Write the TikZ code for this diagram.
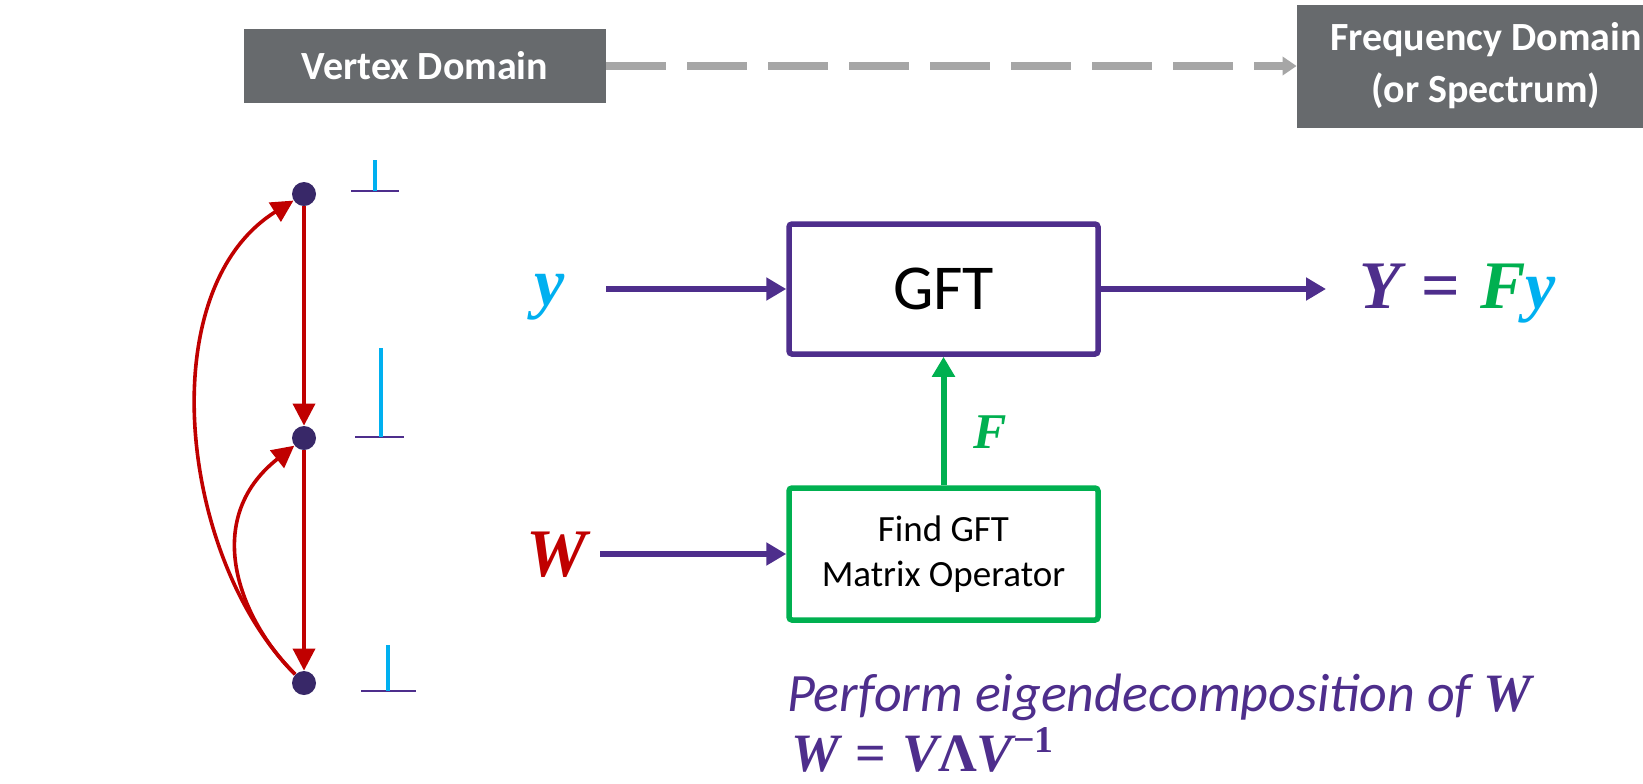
\documentclass[tikz,border=0pt]{standalone}
\usepackage{fontspec}
\setmainfont{Carlito}
\newfontfamily\mathlike{Liberation Serif}
\newcommand{\mv}[1]{{\mathlike\bfseries\itshape #1}}
\newcommand{\meq}{\hspace{0.3em}{\mathlike\bfseries=}\hspace{0.3em}}
\usetikzlibrary{arrows.meta}
\definecolor{gftpurple}{RGB}{78,46,140}
\definecolor{dotpurple}{RGB}{56,40,104}
\definecolor{edgered}{RGB}{192,0,0}
\definecolor{gftgreen}{RGB}{0,176,80}
\definecolor{sigblue}{RGB}{0,176,240}
\definecolor{boxgray}{RGB}{103,106,109}
\definecolor{dashgray}{RGB}{166,166,166}
\begin{document}
\begin{tikzpicture}[x=0.5pt,y=-0.5pt,
	domainbox/.style={rectangle,fill=boxgray,text=white,font=\fontsize{20}{26}\selectfont\bfseries,align=center,inner sep=0pt},
	vertex/.style={circle,fill=dotpurple,minimum size=12pt,inner sep=0pt},
	edge/.style={draw=edgered,line width=1.8pt,-{Triangle[length=11pt,width=11pt]}},
	flow/.style={draw=#1,line width=3pt,-{Triangle[length=10pt,width=11pt]}},
	block/.style={rectangle,draw=#1,line width=2.75pt,rounded corners=1.5pt,minimum width=154.5pt,inner sep=0pt},
	mathlab/.style={anchor=base,font=\fontsize{34}{40}\selectfont}]
	\path[use as bounding box,fill=white] (0,0) rectangle (1643,783);
	\clip (0,0) rectangle (1643,783);
	
	\node[domainbox,minimum width=181pt,minimum height=37pt] (vdom) at (425,66) {Vertex Domain};
	\node[domainbox,minimum width=189pt,minimum height=61.5pt] (fdom) at (1486,66) {Frequency Domain\\(or Spectrum)};
	\draw[dashgray,line width=3.75pt,dash pattern=on 30pt off 10.5pt,-{Triangle[length=7pt,width=9pt]}] (vdom) -- (fdom);
	
	\node[vertex] (v1) at (304,194) {};
	\node[vertex] (v2) at (304,438) {};
	\node[vertex] (v3) at (304,683) {};
	\foreach \from/\to in {v1/v2,v2/v3}
	\draw[edge] (\from) -- (\to);
	\draw[edge] (v3) .. controls (180,560) and (150,290) .. (v1);
	\draw[edge] (v3) .. controls (240,620) and (200,520) .. (v2);
	
	\foreach \bx/\by/\sx/\st/\bw in {351/191/375/160/48,355/437/381/348/49,361/691/388/645/55}{
		\draw[gftpurple,line width=1.2pt] (\bx,\by) -- ++(\bw,0);
		\draw[sigblue,line width=1.6pt] (\sx,\by) -- (\sx,\st);
	}
	
	\node[block=gftpurple,minimum height=65pt,font=\fontsize{32}{38}\selectfont] (gft) at (943.5,289) {GFT};
	\node[block=gftgreen,minimum height=66pt,font=\fontsize{18.5}{22.5}\selectfont,align=center] (find) at (943.5,554) {Find GFT\\Matrix Operator};
	\node[mathlab,text=sigblue] (ylab) at (550,305) {\mv{y}};
	\node[mathlab,text=edgered] (wlab) at (557,576) {\mv{W}};
	\node[mathlab,anchor=base west,text=gftpurple] (out) at (1352,308) {\mv{Y}\meq\textcolor{gftgreen}{\mv{F}}\textcolor{sigblue}{\mv{y}}};
	\node[anchor=base west,text=gftgreen,font=\fontsize{25}{30}\selectfont] (flab) at (966,448) {\mv{F}};
	\coordinate (yin) at (606,289);
	\coordinate (win) at (600,554);
	\coordinate (yout) at (1326,289);
	\draw[flow=gftpurple] (yin) -- (gft);
	\draw[flow=gftpurple] (win) -- (find);
	\draw[flow=gftpurple] (gft) -- (yout);
	\draw[flow=gftgreen] (find) -- (gft);
	
	\node[anchor=base west,text=gftpurple,font=\fontsize{27}{33}\selectfont\itshape] (eig) at (780,711) {Perform eigendecomposition of \mv{W}};
	\node[anchor=base west,text=gftpurple,font=\fontsize{27}{33}\selectfont] (eq) at (784,771) {\mv{W}\meq\mv{V}{\mathlike\bfseries Λ}\mv{V}\textsuperscript{\mathlike\bfseries −1}};
\end{tikzpicture}
\end{document}
